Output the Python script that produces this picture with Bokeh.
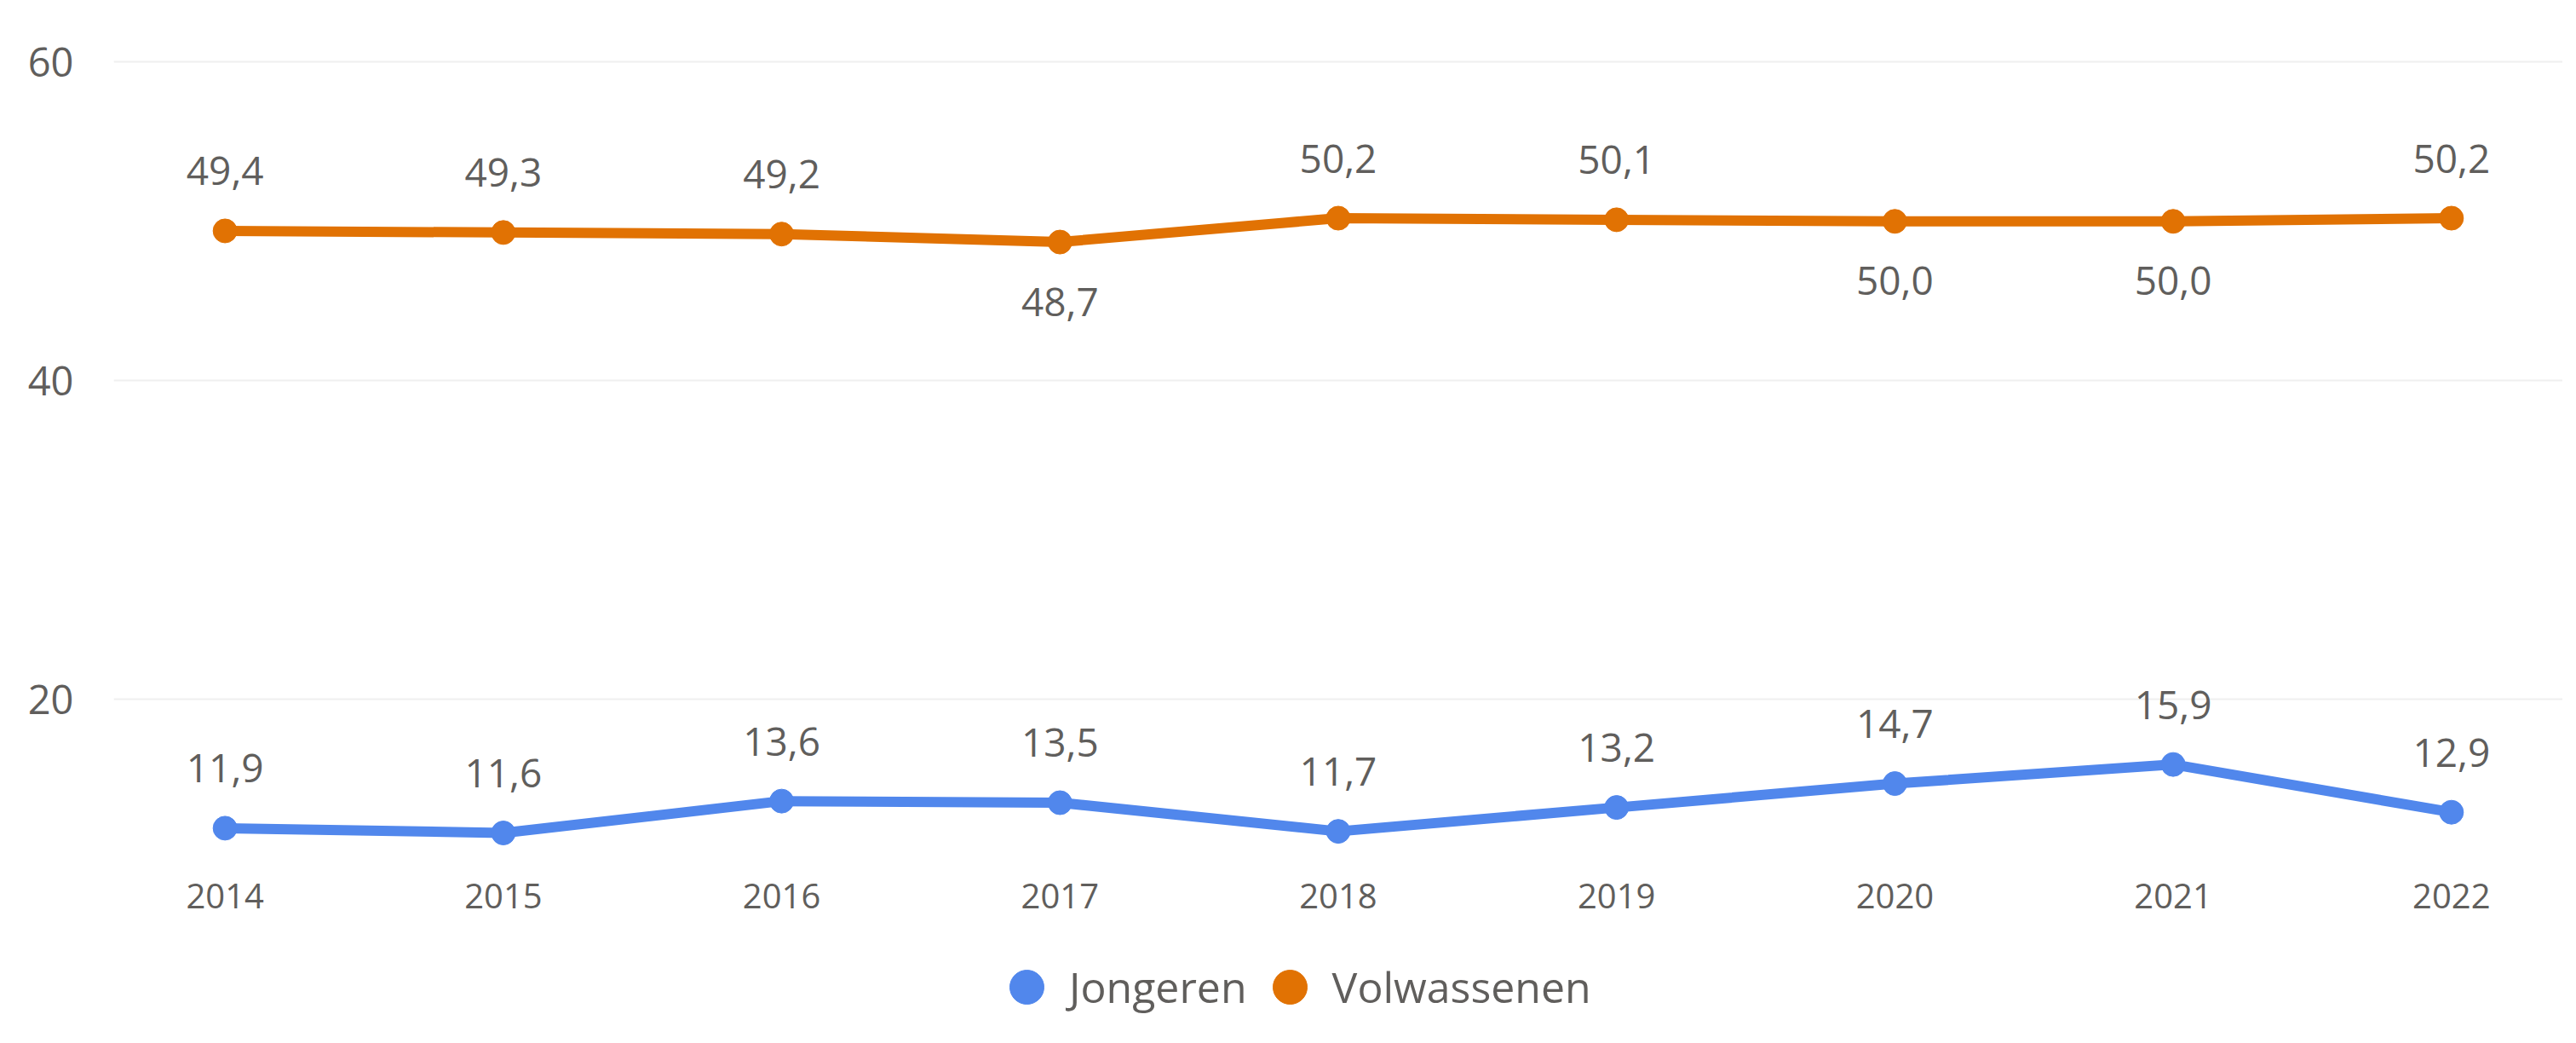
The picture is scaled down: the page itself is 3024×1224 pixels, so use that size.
from bokeh.plotting import figure
from bokeh.layouts import column
from bokeh.models import ColumnDataSource, FixedTicker, Legend, LegendItem, Range1d
from bokeh.core.properties import value
from bokeh.embed import file_html
from bokeh.resources import INLINE

years = [2014, 2015, 2016, 2017, 2018, 2019, 2020, 2021, 2022]
jongeren = [11.9, 11.6, 13.6, 13.5, 11.7, 13.2, 14.7, 15.9, 12.9]
volwassenen = [49.4, 49.3, 49.2, 48.7, 50.2, 50.1, 50.0, 50.0, 50.2]
jongeren_pos = ["above"] * 9
volwassenen_pos = ["above", "above", "above", "below", "above", "above", "below", "below", "above"]
y_ticks = [20, 40, 60]
series_names = ["Jongeren", "Volwassenen"]

BLUE = "#5187EC"
ORANGE = "#E17203"
TEXT = "#605E5C"
FONT = "Open Sans"

W = 3008
H_MAIN = 1090
H_LEG = 118

p = figure(width=W, height=H_MAIN, output_backend="svg", toolbar_location=None,
           x_range=Range1d(2013.6, 2022.4), y_range=Range1d(9.3, 60.5),
           min_border_left=133, min_border_right=0, min_border_top=63, min_border_bottom=70)
p.outline_line_color = None
p.background_fill_color = "white"
p.border_fill_color = "white"

p.xaxis.ticker = FixedTicker(ticks=years)
p.yaxis.ticker = FixedTicker(ticks=y_ticks)
for ax in (p.xaxis, p.yaxis):
    ax.axis_line_color = None
    ax.major_tick_line_color = None
    ax.minor_tick_line_color = None
    ax.major_label_text_color = TEXT
    ax.major_label_text_font = FONT
p.xaxis.major_label_text_font_size = "40px"
p.yaxis.major_label_text_font_size = "47px"
p.xaxis.major_label_standoff = 10
p.yaxis.major_label_standoff = 41
p.xgrid.grid_line_color = None
p.ygrid.grid_line_color = "#EFEFEF"
p.ygrid.grid_line_width = 2

def fmt(v):
    return f"{v:.1f}".replace(".", ",")

for vals, pos, color in ((jongeren, jongeren_pos, BLUE), (volwassenen, volwassenen_pos, ORANGE)):
    src = ColumnDataSource(dict(
        x=years, y=vals,
        label=[fmt(v) for v in vals],
        yoff=[-70 if q == "above" else 70 for q in pos],
    ))
    p.line("x", "y", source=src, line_color=color, line_width=12, line_join="round")
    p.scatter("x", "y", source=src, size=28, fill_color=color, line_color=color)
    p.text("x", "y", text="label", source=src, y_offset="yoff",
           text_align="center", text_baseline="middle",
           text_font=value(FONT), text_font_size="46px", text_color=TEXT)

# legend strip below the chart (its frame is aligned with the chart's frame)
lg = figure(width=W, height=H_LEG, output_backend="svg", toolbar_location=None,
            x_range=Range1d(0, 1), y_range=Range1d(0, 1),
            x_axis_location=None, y_axis_location=None,
            min_border_left=0, min_border_right=0, min_border_top=0, min_border_bottom=0)
lg.outline_line_color = None
lg.xgrid.visible = False
lg.ygrid.visible = False
leg_renderers = []
for color in (BLUE, ORANGE):
    # proxy glyphs lying outside the strip's range: only their legend swatch shows
    leg_renderers.append(lg.scatter(x=[-10], y=[-10], size=27, fill_color=color, line_color=color))

legend = Legend(items=[LegendItem(label=n, renderers=[r]) for n, r in zip(series_names, leg_renderers)],
                orientation="horizontal", location=(1022, 0),
                glyph_width=100, glyph_height=100, label_standoff=0, spacing=0,
                padding=0, margin=0, border_line_color=None, background_fill_alpha=0,
                label_text_font=FONT, label_text_font_size="50px", label_text_color=TEXT)
lg.add_layout(legend, "center")

layout = column(p, lg, spacing=0)
open("out.html", "w").write(file_html(layout, INLINE))
